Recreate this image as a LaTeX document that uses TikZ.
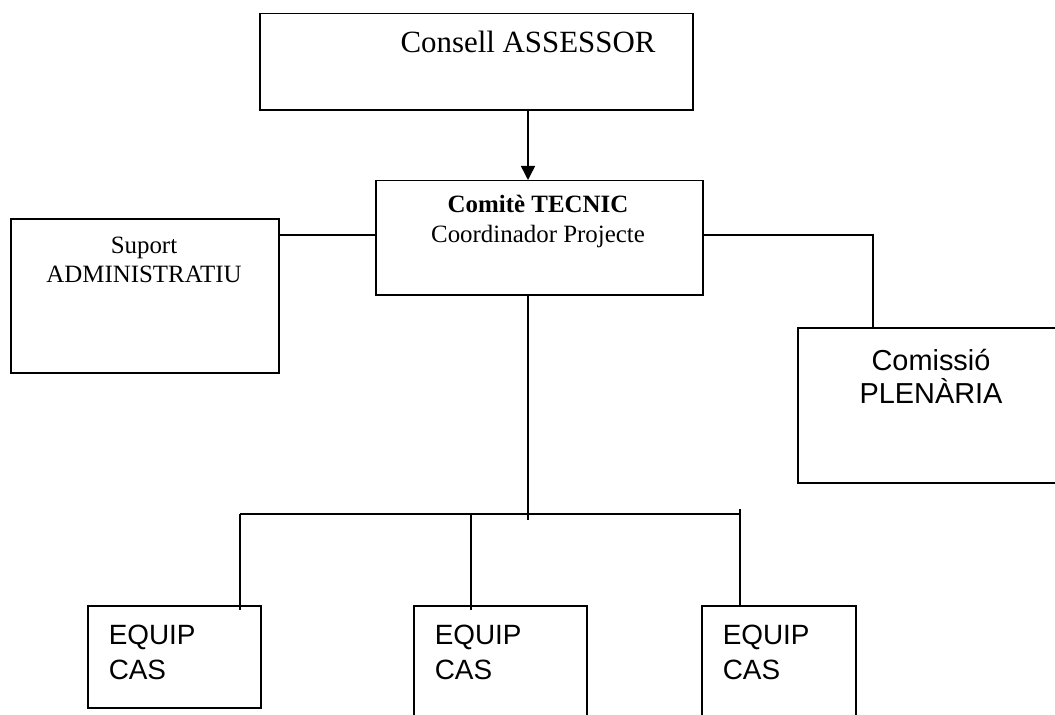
\documentclass[tikz,border=0pt]{standalone}
\usepackage{fontspec}
\setmainfont{Liberation Serif}
\newfontfamily\arialf{Liberation Sans}
\usetikzlibrary{arrows.meta}
\begin{document}
\begin{tikzpicture}[x=1bp,y=-1bp,line width=1.5bp,
  box/.style={draw,rectangle,inner sep=0pt,anchor=north west},
  txt/.style={inner sep=0pt,anchor=base,align=center},
  serifA/.style={font=\fontsize{31}{36}\selectfont},
  serifB/.style={font=\fontsize{25}{30}\selectfont},
  sansA/.style={font=\arialf\fontsize{28}{34}\selectfont},
  sansB/.style={font=\arialf\fontsize{29}{33}\selectfont}]
\clip (0,0) rectangle (1055,715);
% boxes
\node[box,minimum width=433bp,minimum height=96bp] (cons) at (259,13) {};
\node[box,minimum width=327bp,minimum height=114bp] (comi) at (375,180) {};
\node[box,minimum width=268bp,minimum height=154bp] (sup) at (10,218) {};
\node[box,minimum width=268bp,minimum height=155bp] (ple) at (797,327) {};
\node[box,minimum width=173bp,minimum height=102bp] (e1) at (87,605) {};
\node[box,minimum width=173bp,minimum height=130bp] (e2) at (413,605) {};
\node[box,minimum width=154bp,minimum height=130bp] (e3) at (701,605) {};
% texts
\node[txt,serifA] (tcons) at (528,53) {Consell ASSESSOR};
\node[txt,serifB] (tcomi1) at (538,212) {\bfseries Comitè TECNIC};
\node[txt,serifB] (tcomi2) at (538,242) {Coordinador Projecte};
\node[txt,serifB] (tsup1) at (144,253) {Suport};
\node[txt,serifB] (tsup2) at (144,282) {ADMINISTRATIU};
\node[txt,sansB] (tple1) at (931,370) {Comissió};
\node[txt,sansB] (tple2) at (931,403) {PLENÀRIA};
\foreach \n/\x in {1/108,2/434,3/722}{
  \node[inner sep=0pt,anchor=base west,sansA] (eq\n) at (\x,644) {EQUIP};
  \node[inner sep=0pt,anchor=base west,sansA] (cas\n) at (\x,679) {CAS};
}
% connector coordinates
\coordinate (hl) at (240,514);
\coordinate (hr) at (740,514);
\coordinate (cbot) at (528,520);
\coordinate (rtop) at (740,509);
\coordinate (pl) at (873,235);
% connectors
\draw[-{Triangle[width=14bp,length=14bp]}] (cons.south -| 528,0) -- (comi.north -| 528,0);
\draw (sup.east |- 0,235) -- (comi.west |- 0,235);
\draw (comi.east |- 0,235) -- (pl) -- (ple.north -| pl);
\draw (comi.south -| 528,0) -- (cbot);
\draw (hl) -- (hr);
\draw (hl) -- (240,610);
\draw (471,514) -- (471,610);
\draw (rtop) -- (e3.north -| rtop);
\end{tikzpicture}
\end{document}
